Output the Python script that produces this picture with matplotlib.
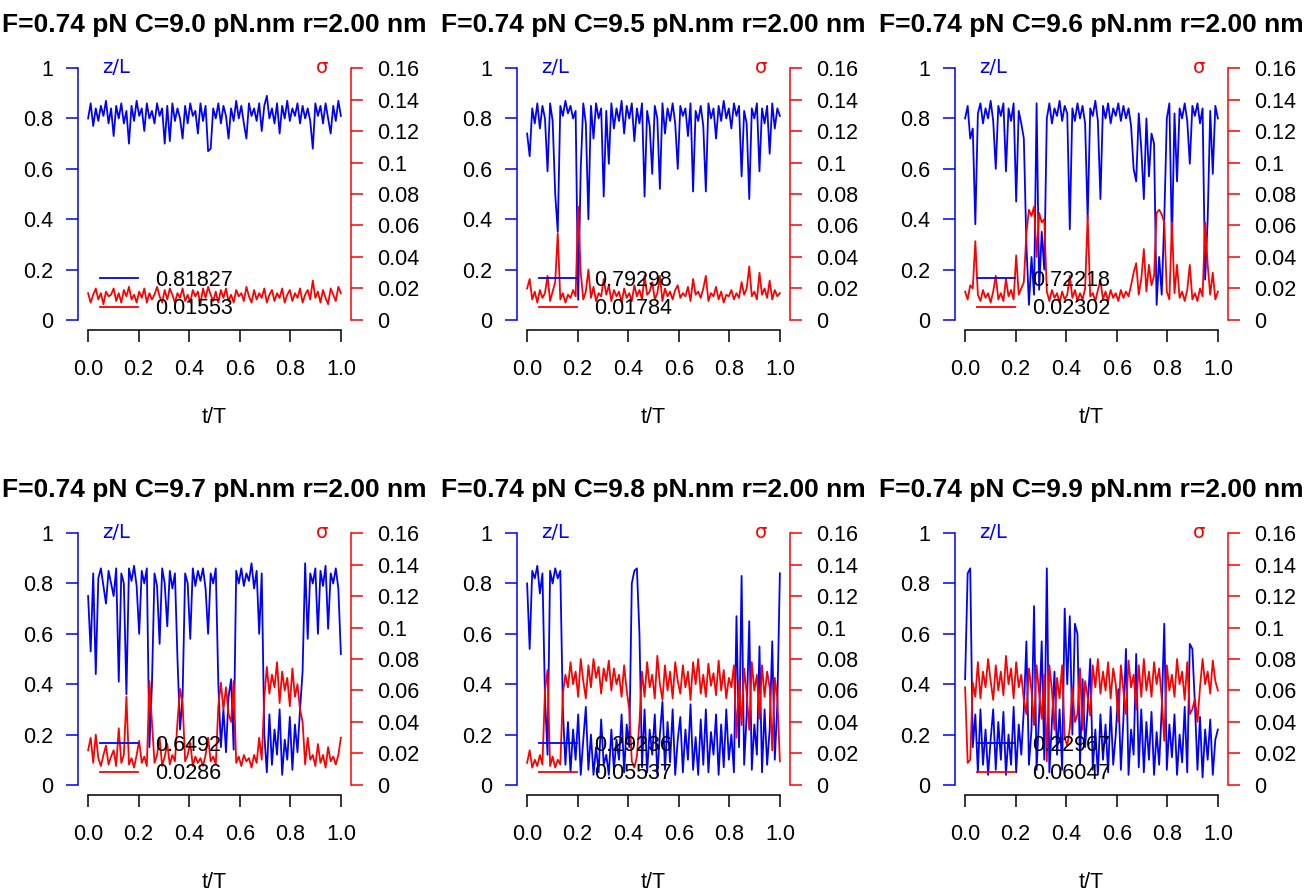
import numpy as np
import matplotlib.pyplot as plt
from matplotlib.lines import Line2D

plt.rcParams['font.family'] = ['Liberation Sans', 'DejaVu Sans']

# torque values C (pN.nm) of the six runs
C_vals = [9.0, 9.5, 9.6, 9.7, 9.8, 9.9]
z_means = ["0.81827", "0.79298", "0.72218", "0.6492", "0.29236", "0.22967"]
s_means = ["0.01553", "0.01784", "0.02302", "0.0286", "0.05537", "0.06047"]

# z/L traces (100 samples over t/T = 0..1)
z_90 = [0.80, 0.86, 0.77, 0.84, 0.79, 0.85, 0.81, 0.87, 0.78, 0.84,
        0.73, 0.85, 0.80, 0.86, 0.78, 0.83, 0.70, 0.85, 0.79, 0.87,
        0.81, 0.84, 0.75, 0.86, 0.80, 0.83, 0.78, 0.86, 0.81, 0.84,
        0.70, 0.85, 0.71, 0.86, 0.79, 0.84, 0.80, 0.72, 0.85, 0.78,
        0.86, 0.81, 0.83, 0.74, 0.86, 0.79, 0.85, 0.67, 0.68, 0.84,
        0.80, 0.86, 0.78, 0.85, 0.81, 0.72, 0.84, 0.79, 0.87, 0.80,
        0.85, 0.78, 0.72, 0.86, 0.81, 0.84, 0.79, 0.86, 0.75, 0.85,
        0.89, 0.80, 0.84, 0.78, 0.86, 0.74, 0.85, 0.80, 0.87, 0.79,
        0.84, 0.81, 0.86, 0.78, 0.85, 0.80, 0.84, 0.79, 0.68, 0.86,
        0.81, 0.85, 0.78, 0.86, 0.80, 0.74, 0.85, 0.79, 0.87, 0.81]
z_95 = [0.74, 0.65, 0.84, 0.78, 0.86, 0.76, 0.85, 0.80, 0.59, 0.86,
        0.79, 0.50, 0.35, 0.85, 0.81, 0.87, 0.82, 0.85, 0.80, 0.83,
        0.08, 0.60, 0.86, 0.78, 0.40, 0.85, 0.72, 0.86, 0.80, 0.84,
        0.49, 0.83, 0.62, 0.86, 0.76, 0.84, 0.79, 0.87, 0.74, 0.85,
        0.80, 0.86, 0.71, 0.84, 0.78, 0.86, 0.49, 0.83, 0.77, 0.58,
        0.85, 0.80, 0.52, 0.86, 0.74, 0.84, 0.79, 0.86, 0.78, 0.60,
        0.85, 0.81, 0.84, 0.73, 0.86, 0.51, 0.83, 0.79, 0.85, 0.77,
        0.51, 0.86, 0.80, 0.84, 0.72, 0.85, 0.79, 0.87, 0.80, 0.84,
        0.76, 0.86, 0.81, 0.85, 0.57, 0.83, 0.78, 0.48, 0.84, 0.80,
        0.86, 0.59, 0.84, 0.78, 0.85, 0.66, 0.86, 0.76, 0.84, 0.81]
z_96 = [0.80, 0.85, 0.72, 0.76, 0.38, 0.82, 0.86, 0.78, 0.84, 0.80,
        0.87, 0.79, 0.60, 0.85, 0.81, 0.86, 0.59, 0.84, 0.79, 0.86,
        0.47, 0.83, 0.78, 0.72, 0.30, 0.06, 0.25, 0.10, 0.86, 0.12,
        0.35, 0.20, 0.80, 0.86, 0.78, 0.84, 0.81, 0.87, 0.79, 0.85,
        0.82, 0.36, 0.84, 0.79, 0.86, 0.80, 0.85, 0.78, 0.40, 0.84,
        0.81, 0.87, 0.79, 0.48, 0.85, 0.80, 0.86, 0.78, 0.84, 0.81,
        0.86, 0.79, 0.85, 0.80, 0.84, 0.77, 0.60, 0.55, 0.82, 0.68,
        0.48, 0.80, 0.57, 0.74, 0.70, 0.06, 0.25, 0.10, 0.40, 0.80,
        0.86, 0.30, 0.82, 0.55, 0.84, 0.80, 0.86, 0.79, 0.62, 0.85,
        0.81, 0.86, 0.78, 0.84, 0.16, 0.40, 0.83, 0.58, 0.85, 0.80]
z_97 = [0.75, 0.53, 0.84, 0.44, 0.82, 0.86, 0.79, 0.72, 0.85, 0.80,
        0.75, 0.86, 0.41, 0.84, 0.80, 0.36, 0.86, 0.81, 0.87, 0.79,
        0.60, 0.85, 0.80, 0.86, 0.15, 0.40, 0.84, 0.79, 0.56, 0.86,
        0.80, 0.63, 0.85, 0.78, 0.84, 0.50, 0.22, 0.35, 0.84, 0.80,
        0.58, 0.86, 0.79, 0.85, 0.81, 0.86, 0.78, 0.60, 0.84, 0.80,
        0.86, 0.40, 0.15, 0.30, 0.13, 0.35, 0.42, 0.14, 0.85, 0.80,
        0.86, 0.79, 0.84, 0.81, 0.88, 0.78, 0.85, 0.60, 0.84, 0.20,
        0.05, 0.28, 0.08, 0.22, 0.12, 0.30, 0.04, 0.18, 0.10, 0.27,
        0.06, 0.24, 0.13, 0.30, 0.45, 0.88, 0.58, 0.84, 0.80, 0.86,
        0.60, 0.85, 0.79, 0.87, 0.62, 0.84, 0.80, 0.86, 0.78, 0.52]
z_98 = [0.80, 0.54, 0.85, 0.82, 0.87, 0.76, 0.84, 0.35, 0.12, 0.85,
        0.80, 0.86, 0.82, 0.85, 0.30, 0.08, 0.25, 0.05, 0.22, 0.10,
        0.28, 0.04, 0.18, 0.31, 0.06, 0.20, 0.04, 0.15, 0.05, 0.26,
        0.08, 0.12, 0.04, 0.22, 0.06, 0.18, 0.10, 0.28, 0.05, 0.24,
        0.15, 0.80, 0.85, 0.86, 0.60, 0.07, 0.30, 0.05, 0.22, 0.12,
        0.28, 0.04, 0.20, 0.33, 0.06, 0.25, 0.09, 0.30, 0.04, 0.18,
        0.27, 0.05, 0.22, 0.10, 0.32, 0.06, 0.19, 0.04, 0.26, 0.08,
        0.30, 0.05, 0.21, 0.12, 0.28, 0.04, 0.24, 0.07, 0.30, 0.10,
        0.20, 0.05, 0.67, 0.15, 0.83, 0.08, 0.28, 0.65, 0.06, 0.24,
        0.12, 0.55, 0.05, 0.30, 0.08, 0.22, 0.57, 0.10, 0.32, 0.84]
z_99 = [0.42, 0.84, 0.86, 0.15, 0.28, 0.05, 0.30, 0.08, 0.22, 0.04,
        0.18, 0.30, 0.06, 0.25, 0.10, 0.29, 0.04, 0.20, 0.08, 0.31,
        0.05, 0.24, 0.12, 0.30, 0.57, 0.08, 0.22, 0.71, 0.06, 0.28,
        0.57, 0.10, 0.86, 0.05, 0.25, 0.45, 0.12, 0.30, 0.06, 0.70,
        0.40, 0.67, 0.20, 0.64, 0.60, 0.08, 0.42, 0.15, 0.30, 0.50,
        0.06, 0.22, 0.04, 0.28, 0.10, 0.24, 0.05, 0.31, 0.08, 0.20,
        0.38, 0.06, 0.26, 0.54, 0.04, 0.22, 0.12, 0.52, 0.07, 0.30,
        0.05, 0.25, 0.10, 0.29, 0.04, 0.21, 0.08, 0.30, 0.64, 0.06,
        0.24, 0.11, 0.28, 0.04, 0.20, 0.09, 0.31, 0.05, 0.56, 0.54,
        0.32, 0.06, 0.27, 0.03, 0.22, 0.10, 0.26, 0.04, 0.18, 0.22]

# sigma traces
s_90 = [0.017, 0.011, 0.016, 0.020, 0.013, 0.017, 0.010, 0.018, 0.015, 0.016,
        0.020, 0.012, 0.017, 0.011, 0.019, 0.015, 0.021, 0.013, 0.016, 0.011,
        0.018, 0.014, 0.020, 0.011, 0.017, 0.013, 0.016, 0.021, 0.015, 0.011,
        0.019, 0.013, 0.020, 0.016, 0.011, 0.017, 0.014, 0.020, 0.012, 0.016,
        0.011, 0.019, 0.015, 0.018, 0.010, 0.020, 0.014, 0.021, 0.016, 0.012,
        0.018, 0.011, 0.019, 0.014, 0.020, 0.012, 0.016, 0.011, 0.019, 0.015,
        0.017, 0.012, 0.021, 0.015, 0.011, 0.019, 0.013, 0.017, 0.014, 0.020,
        0.011, 0.016, 0.019, 0.012, 0.017, 0.014, 0.020, 0.011, 0.016, 0.019,
        0.012, 0.017, 0.014, 0.020, 0.011, 0.016, 0.019, 0.013, 0.025, 0.014,
        0.018, 0.011, 0.019, 0.014, 0.010, 0.020, 0.016, 0.012, 0.021, 0.017]
s_95 = [0.020, 0.026, 0.013, 0.018, 0.011, 0.019, 0.014, 0.017, 0.028, 0.012,
        0.018, 0.024, 0.055, 0.013, 0.017, 0.011, 0.016, 0.014, 0.019, 0.015,
        0.072, 0.030, 0.013, 0.018, 0.032, 0.014, 0.021, 0.012, 0.017, 0.015,
        0.026, 0.016, 0.022, 0.012, 0.019, 0.015, 0.018, 0.011, 0.020, 0.014,
        0.017, 0.012, 0.022, 0.015, 0.019, 0.013, 0.028, 0.016, 0.018, 0.024,
        0.013, 0.017, 0.028, 0.012, 0.020, 0.015, 0.018, 0.013, 0.019, 0.022,
        0.014, 0.017, 0.015, 0.021, 0.012, 0.026, 0.016, 0.018, 0.014, 0.020,
        0.028, 0.012, 0.017, 0.015, 0.021, 0.013, 0.018, 0.011, 0.016, 0.015,
        0.019, 0.013, 0.017, 0.014, 0.024, 0.016, 0.020, 0.034, 0.015, 0.018,
        0.013, 0.030, 0.016, 0.020, 0.014, 0.025, 0.013, 0.019, 0.015, 0.017]
s_96 = [0.018, 0.013, 0.022, 0.020, 0.050, 0.016, 0.012, 0.019, 0.014, 0.017,
        0.011, 0.018, 0.028, 0.013, 0.017, 0.012, 0.026, 0.015, 0.019, 0.013,
        0.041, 0.016, 0.020, 0.024, 0.055, 0.070, 0.066, 0.072, 0.040, 0.068,
        0.062, 0.064, 0.018, 0.012, 0.019, 0.014, 0.017, 0.011, 0.018, 0.013,
        0.016, 0.028, 0.014, 0.019, 0.012, 0.017, 0.013, 0.020, 0.066, 0.015,
        0.017, 0.012, 0.019, 0.025, 0.013, 0.018, 0.012, 0.019, 0.014, 0.017,
        0.012, 0.019, 0.014, 0.018, 0.015, 0.022, 0.030, 0.036, 0.016, 0.026,
        0.045, 0.018, 0.035, 0.022, 0.028, 0.068, 0.070, 0.067, 0.062, 0.018,
        0.013, 0.062, 0.017, 0.035, 0.014, 0.018, 0.012, 0.019, 0.035, 0.013,
        0.017, 0.012, 0.020, 0.015, 0.062, 0.035, 0.016, 0.030, 0.013, 0.018]
s_97 = [0.022, 0.030, 0.014, 0.032, 0.017, 0.012, 0.019, 0.025, 0.013, 0.018,
        0.022, 0.012, 0.036, 0.014, 0.019, 0.056, 0.013, 0.017, 0.011, 0.019,
        0.028, 0.014, 0.018, 0.012, 0.066, 0.040, 0.014, 0.019, 0.030, 0.012,
        0.018, 0.026, 0.013, 0.019, 0.015, 0.040, 0.061, 0.052, 0.015, 0.019,
        0.027, 0.012, 0.018, 0.014, 0.017, 0.012, 0.019, 0.030, 0.015, 0.018,
        0.013, 0.050, 0.065, 0.048, 0.062, 0.045, 0.040, 0.066, 0.014, 0.018,
        0.012, 0.019, 0.015, 0.017, 0.011, 0.019, 0.014, 0.030, 0.016, 0.055,
        0.075, 0.058, 0.070, 0.062, 0.078, 0.052, 0.072, 0.060, 0.068, 0.050,
        0.074, 0.056, 0.064, 0.048, 0.040, 0.013, 0.030, 0.016, 0.019, 0.012,
        0.026, 0.014, 0.019, 0.011, 0.024, 0.015, 0.018, 0.013, 0.019, 0.030]
s_98 = [0.014, 0.022, 0.011, 0.016, 0.012, 0.019, 0.013, 0.060, 0.073, 0.012,
        0.018, 0.011, 0.016, 0.013, 0.058, 0.070, 0.062, 0.078, 0.064, 0.072,
        0.056, 0.080, 0.066, 0.055, 0.076, 0.062, 0.080, 0.068, 0.075, 0.058,
        0.074, 0.066, 0.079, 0.060, 0.074, 0.064, 0.070, 0.056, 0.076, 0.060,
        0.048, 0.015, 0.011, 0.018, 0.040, 0.072, 0.056, 0.078, 0.062, 0.070,
        0.055, 0.082, 0.064, 0.054, 0.076, 0.060, 0.072, 0.055, 0.078, 0.066,
        0.058, 0.076, 0.062, 0.072, 0.054, 0.078, 0.064, 0.080, 0.058, 0.070,
        0.056, 0.077, 0.063, 0.071, 0.057, 0.079, 0.060, 0.073, 0.055, 0.068,
        0.062, 0.076, 0.030, 0.066, 0.038, 0.074, 0.058, 0.035, 0.078, 0.060,
        0.070, 0.042, 0.076, 0.056, 0.072, 0.062, 0.022, 0.068, 0.055, 0.015]
s_99 = [0.062, 0.014, 0.016, 0.065, 0.056, 0.078, 0.055, 0.072, 0.062, 0.080,
        0.066, 0.054, 0.076, 0.060, 0.072, 0.057, 0.082, 0.064, 0.074, 0.055,
        0.078, 0.062, 0.070, 0.054, 0.045, 0.074, 0.060, 0.038, 0.076, 0.058,
        0.042, 0.070, 0.015, 0.076, 0.060, 0.035, 0.068, 0.055, 0.076, 0.030,
        0.025, 0.036, 0.062, 0.040, 0.045, 0.074, 0.035, 0.066, 0.056, 0.044,
        0.076, 0.062, 0.080, 0.058, 0.072, 0.060, 0.078, 0.055, 0.074, 0.064,
        0.040, 0.076, 0.060, 0.045, 0.079, 0.062, 0.070, 0.048, 0.076, 0.056,
        0.080, 0.060, 0.072, 0.056, 0.078, 0.064, 0.074, 0.055, 0.028, 0.076,
        0.060, 0.070, 0.056, 0.080, 0.064, 0.072, 0.054, 0.078, 0.045, 0.048,
        0.055, 0.040, 0.062, 0.080, 0.064, 0.072, 0.058, 0.079, 0.066, 0.060]

z_all = [z_90, z_95, z_96, z_97, z_98, z_99]
s_all = [s_90, s_95, s_96, s_97, s_98, s_99]

W, H = 1304.0, 893.0
lefts = [78, 517, 955]
bots = [330, 795]
fs = 15.5

fig = plt.figure(figsize=(W / 100, H / 100), dpi=100)

for k in range(6):
    r, c = divmod(k, 3)
    ax = fig.add_axes([lefts[c] / W, 1 - bots[r] / H, 273 / W, 272 / H])
    ax2 = ax.twinx()
    z = np.array(z_all[k])
    s = np.array(s_all[k])
    t = np.linspace(0, 1, len(z))
    ax.plot(t, z, color='blue', lw=1.3)
    ax2.plot(t, s, color='red', lw=1.3)

    ax.set_xlim(-0.04, 1.04)
    ax.set_ylim(-0.04, 1.04)
    ax2.set_ylim(-0.0064, 0.1664)

    for sp in ['top', 'right']:
        ax.spines[sp].set_visible(False)
    for sp in ['top', 'left', 'bottom']:
        ax2.spines[sp].set_visible(False)
    ax.spines['left'].set_bounds(0, 1)
    ax.spines['left'].set_color('blue')
    ax.spines['left'].set_linewidth(1.1)
    ax.spines['bottom'].set_bounds(0, 1)
    ax.spines['bottom'].set_linewidth(1.1)
    ax2.spines['right'].set_bounds(0, 0.16)
    ax2.spines['right'].set_color('red')
    ax2.spines['right'].set_linewidth(1.1)

    yt = [0, 0.2, 0.4, 0.6, 0.8, 1]
    ax.set_yticks(yt)
    ax.set_yticklabels(['%g' % v for v in yt])
    st = [0, 0.02, 0.04, 0.06, 0.08, 0.1, 0.12, 0.14, 0.16]
    ax2.set_yticks(st)
    ax2.set_yticklabels(['%g' % v for v in st])
    xt = [0, 0.2, 0.4, 0.6, 0.8, 1.0]
    ax.set_xticks(xt)
    ax.set_xticklabels(['%.1f' % v for v in xt])

    ax.tick_params(axis='y', color='blue', length=8.6, width=1.1, pad=9, labelsize=fs)
    ax.tick_params(axis='x', color='black', length=8.6, width=1.1, pad=12, labelsize=fs)
    ax2.tick_params(axis='y', color='red', length=8.6, width=1.1, pad=10, labelsize=fs)

    ax.set_xlabel('t/T', fontsize=fs, labelpad=20)
    ax.set_title('F=0.74 pN C=%.1f pN.nm r=2.00 nm' % C_vals[k],
                 fontsize=19, fontweight='bold', pad=19)

    ax.text(0.088, 0.945, 'z/L', transform=ax.transAxes, color='blue',
            fontsize=14, family='DejaVu Sans', ha='left', va='baseline')
    ax.text(0.894, 0.945, 'σ', transform=ax.transAxes, color='red',
            fontsize=14, family='DejaVu Sans', ha='center', va='baseline')

    handles = [Line2D([], [], color='blue', lw=1.3), Line2D([], [], color='red', lw=1.3)]
    ax2.legend(handles, [z_means[k], s_means[k]], loc='lower left',
               bbox_to_anchor=(0.081, 0.04), frameon=False, fontsize=fs,
               handlelength=1.75, handletextpad=0.8, labelspacing=0.35,
               borderpad=0, borderaxespad=0)

fig.savefig('out.png', dpi=100)
